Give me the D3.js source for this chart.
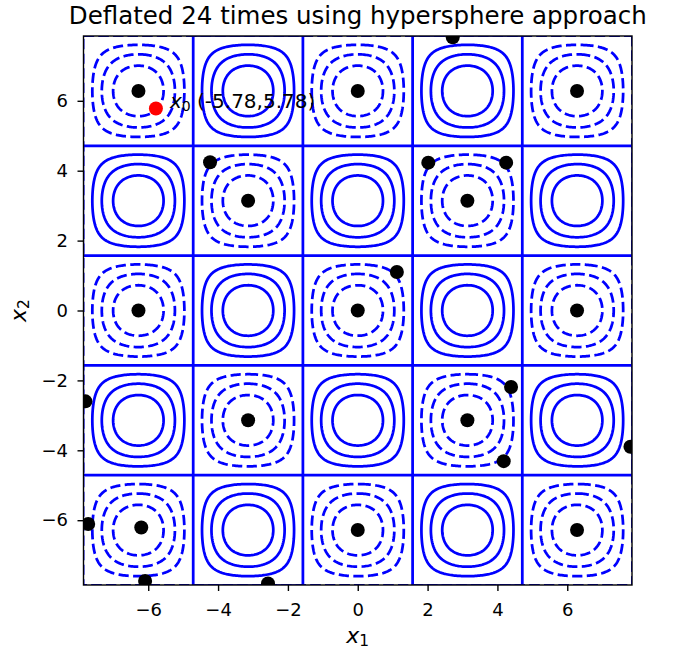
<!DOCTYPE html>
<html>
<head>
<meta charset="utf-8">
<script src="https://cdn.jsdelivr.net/npm/d3@7"></script>
<style>
  body { margin: 0; background: #fff; }
  text { font-family: "DejaVu Sans", sans-serif; fill: #000; }
</style>
</head>
<body>
<div id="vis"></div>
<script>
// Frame
const FRAME_WIDTH = 676;
const FRAME_HEIGHT = 649;
const MARGINS = {left: 83.5, top: 36, right: 44, bottom: 64};
const VIS_WIDTH = FRAME_WIDTH - MARGINS.left - MARGINS.right;
const VIS_HEIGHT = FRAME_HEIGHT - MARGINS.top - MARGINS.bottom;

// Data
const PI = Math.PI;
const DOMAIN = [-2.5 * PI, 2.5 * PI];
const LEVELS = [-0.75, -0.5, -0.25, 0, 0.25, 0.5, 0.75];
const X_TICKS = [-6, -4, -2, 0, 2, 4, 6];
const Y_TICKS = [-6, -4, -2, 0, 2, 4, 6];
const TITLE = "Deflated 24 times using hypersphere approach";

// roots found by deflation
const ROOTS_X = [-6.28, 0, 6.28, 2.72, -4.23, -3.14, 2.02, 3.14, 4.25, -6.28, 0, 1.12, 6.28,
                 -7.8, -3.14, 3.14, 4.39, 4.18, 7.81, -7.72, -6.2, -6.09, -2.57, 0, 6.28];
const ROOTS_Y = [6.28, 6.28, 6.28, 7.82, 4.24, 3.14, 4.23, 3.14, 4.23, 0, 0, 1.10, 0,
                 -2.6, -3.14, -3.14, -2.19, -4.31, -3.9, -6.11, -6.21, -7.74, -7.81, -6.28, -6.28];
const START = [-5.78, 5.78];
const START_LABEL = " (-5.78,5.78)";

// objective being contoured
function f(x1, x2) { return -Math.cos(x1) * Math.cos(x2); }

const svg = d3.select("#vis")
  .append("svg")
    .attr("width", FRAME_WIDTH)
    .attr("height", FRAME_HEIGHT);

const X_SCALE = d3.scaleLinear().domain(DOMAIN).range([0, VIS_WIDTH]);
const Y_SCALE = d3.scaleLinear().domain(DOMAIN).range([VIS_HEIGHT, 0]);

const plot = svg.append("g")
  .attr("transform", "translate(" + MARGINS.left + "," + MARGINS.top + ")");

svg.append("defs").append("clipPath").attr("id", "clip")
  .append("rect").attr("width", VIS_WIDTH).attr("height", VIS_HEIGHT);

// sample the grid
const N = 400;
const step = (DOMAIN[1] - DOMAIN[0]) / (N - 1);
const values = new Array(N * N);
for (let j = 0; j < N; j++) {
  for (let i = 0; i < N; i++) {
    values[j * N + i] = f(DOMAIN[0] + i * step, DOMAIN[0] + j * step);
  }
}
const contours = d3.contours().size([N, N]).thresholds(LEVELS)(values);

const gridPath = d3.geoPath(d3.geoTransform({
  point: function(gx, gy) {
    this.stream.point(X_SCALE(DOMAIN[0] + (gx - 0.5) * step),
                      Y_SCALE(DOMAIN[0] + (gy - 0.5) * step));
  }
}));

const body = plot.append("g").attr("clip-path", "url(#clip)");

body.selectAll(".level")
  .data(contours)
  .enter()
  .append("path")
    .attr("class", "level")
    .attr("d", gridPath)
    .attr("fill", "none")
    .attr("stroke", "#0000ff")
    .attr("stroke-width", 2.75)
    .attr("stroke-linejoin", "round")
    .attr("stroke-dasharray", d => d.value < 0 ? "10.2,4.4" : null);

body.selectAll(".root")
  .data(ROOTS_X)
  .enter()
  .append("circle")
    .attr("class", "root")
    .attr("cx", d => X_SCALE(d))
    .attr("cy", (d, i) => Y_SCALE(ROOTS_Y[i]))
    .attr("r", 7)
    .attr("fill", "#000");

body.append("circle")
  .attr("cx", X_SCALE(START[0]))
  .attr("cy", Y_SCALE(START[1]))
  .attr("r", 7)
  .attr("fill", "#ff0000");

// starting point label
const lab = plot.append("text")
  .attr("x", X_SCALE(START[0]) + 14)
  .attr("y", Y_SCALE(START[1]) - 0.5)
  .attr("font-size", "20px");
lab.append("tspan").attr("font-style", "italic").text("x");
lab.append("tspan").attr("font-size", "14px").attr("dy", 3).text("0");
lab.append("tspan").attr("dy", -3).text(START_LABEL);

// axes
const fmt = d => d < 0 ? "\u2212" + Math.abs(d) : d;
const xAxis = plot.append("g")
  .attr("transform", "translate(0," + VIS_HEIGHT + ")")
  .call(d3.axisBottom(X_SCALE).tickValues(X_TICKS).tickSize(6).tickPadding(12).tickFormat(fmt));
const yAxis = plot.append("g")
  .call(d3.axisLeft(Y_SCALE).tickValues(Y_TICKS).tickSize(6).tickPadding(9.5).tickFormat(fmt));
[xAxis, yAxis].forEach(a => {
  a.select(".domain").remove();
  a.selectAll("line").attr("stroke", "#000").attr("stroke-width", 1.4);
  a.selectAll("text").attr("font-size", "18px").attr("font-family", "DejaVu Sans, sans-serif");
});

// frame
plot.append("rect")
  .attr("width", VIS_WIDTH)
  .attr("height", VIS_HEIGHT)
  .attr("fill", "none")
  .attr("stroke", "#000")
  .attr("stroke-width", 1.4);

// title and axis labels
svg.append("text")
  .attr("x", MARGINS.left + VIS_WIDTH / 2)
  .attr("y", 24)
  .attr("text-anchor", "middle")
  .attr("font-size", "24.5px")
  .text(TITLE);

const xl = svg.append("text")
  .attr("x", MARGINS.left + VIS_WIDTH / 2)
  .attr("y", 642.5)
  .attr("text-anchor", "middle")
  .attr("font-size", "22px");
xl.append("tspan").attr("font-style", "italic").text("x");
xl.append("tspan").attr("font-size", "15.4px").attr("dy", 3.5).text("1");

const yl = svg.append("text")
  .attr("transform", "translate(25.5," + (MARGINS.top + VIS_HEIGHT / 2) + ") rotate(-90)")
  .attr("text-anchor", "middle")
  .attr("font-size", "22px");
yl.append("tspan").attr("font-style", "italic").text("x");
yl.append("tspan").attr("font-size", "15.4px").attr("dy", 3.5).text("2");
</script>
</body>
</html>
